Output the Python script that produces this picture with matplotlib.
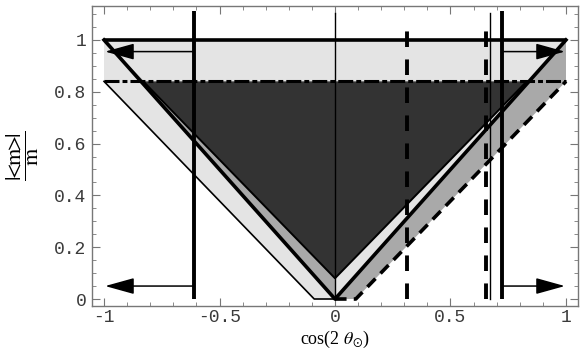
import matplotlib
matplotlib.use('Agg')
from matplotlib import pyplot as plt
import numpy as np

plt.rcParams['mathtext.fontset'] = 'stix'

# upper limit |<m>|/m = 1 and the dash-dot level
top_x = [-1.0, 1.0]
top_y = [1.0, 1.0]
band_y = 0.84

# thick V : |<m>|/m = |cos 2theta|
v_x = [-1.0, 0.0, 1.0]
v_y = [1.0, 0.0, 1.0]

# lower edge on the left (thin) and on the right (dashed)
left_x = [-1.0, -0.09, 0.0]
left_y = [0.84, 0.0, 0.0]
right_x = [0.0, 0.09, 1.0]
right_y = [0.0, 0.0, 0.84]

# dark triangle
dark_x = [-0.83, 0.0, 0.83]
dark_y = [0.84, 0.08, 0.84]

# vertical bounds
vsolid_x = [-0.61, 0.723]      # thick solid
vsolid_top = 1.11
vthin_x = [0.0, 0.672]         # thin solid
vthin_top = 1.105
vdash_x = [0.313, 0.654]       # thick dashed
vdash_top = 1.077

# arrows (tail on the thick lines, head at the edge)
arrow_y = [0.955, 0.05]
arrow_tail = [-0.61, 0.723]
arrow_tip = [-0.995, 0.995]

xticks = [-1, -0.5, 0, 0.5, 1]
xlabels = ['-1', '-0.5', '0', '0.5', '1']
yticks = [0, 0.2, 0.4, 0.6, 0.8, 1]
ylabels = ['0', '0.2', '0.4', '0.6', '0.8', '1']

LIGHT = '#e4e4e4'
MID = '#a9a9a9'
DARK = '#333333'

fig = plt.figure(figsize=(5.81, 3.54), dpi=100)
ax = fig.add_axes([92/581, 1-306/354, 486/581, 300/354])

# light region
ax.fill([top_x[0], top_x[1], v_x[1], left_x[1], left_x[0]],
        [top_y[0], top_y[1], v_y[1], left_y[1], left_y[0]], color=LIGHT, lw=0)
# medium regions
ax.fill([v_x[2], right_x[2], right_x[1], right_x[0]],
        [v_y[2], right_y[2], right_y[1], right_y[0]], color=MID, lw=0)
ax.fill([v_x[0], v_x[1], dark_x[1]], [v_y[0], v_y[1], dark_y[1]], color=MID, lw=0)
# dark region
ax.fill(dark_x, dark_y, color=DARK, lw=0)

# lines
ax.plot(dark_x, dark_y, color='k', lw=1.4)
ax.plot(top_x, top_y, color='k', lw=2.6, solid_capstyle='butt')
ax.plot(top_x, [band_y, band_y], color='k', lw=2.2, dashes=(4.9, 1.0, 1.6, 1.0))
ax.plot(left_x, left_y, color='k', lw=1.2)
ax.plot(right_x, right_y, color='k', lw=2.6, dashes=(3.2, 2.0))
ax.plot(v_x, v_y, color='k', lw=2.6)

for x in vsolid_x:
    ax.plot([x, x], [0, vsolid_top], color='k', lw=2.8, solid_capstyle='butt')
for x in vthin_x:
    ax.plot([x, x], [0, vthin_top], color='k', lw=1.0)
for x in vdash_x:
    ax.plot([x, x], [0, vdash_top], color='k', lw=2.8, dashes=(4.0, 3.2))

for y in arrow_y:
    for t0, t1 in zip(arrow_tail, arrow_tip):
        ax.annotate('', xy=(t1, y), xytext=(t0, y),
                    arrowprops=dict(arrowstyle='-|>,head_length=1.8,head_width=0.5',
                                    mutation_scale=10, lw=1.1, color='k',
                                    shrinkA=0, shrinkB=0))

ax.set_xlim(-1.052, 1.052)
ax.set_ylim(-0.027, 1.131)

ax.set_xticks(xticks)
ax.set_xticklabels(xlabels)
ax.set_yticks(yticks)
ax.set_yticklabels(ylabels)
ax.set_xticks(np.arange(-1, 1.01, 0.1), minor=True)
ax.set_yticks(np.arange(0, 1.11, 0.05), minor=True)
ax.tick_params(which='both', direction='in', top=True, right=True, color='#777777')
ax.tick_params(which='major', length=6, width=0.8)
ax.tick_params(which='minor', length=3, width=0.6)
ax.tick_params(axis='x', pad=2)
ax.tick_params(axis='y', pad=4)
for lab in ax.get_xticklabels() + ax.get_yticklabels():
    lab.set_family('Liberation Mono')
    lab.set_fontsize(13)
    lab.set_color('#3a3a3a')
for s in ax.spines.values():
    s.set_color('#777777')
    s.set_linewidth(1.0)

ax.set_xlabel(r'cos(2 $\theta_{\odot}$)', family='Liberation Serif', fontsize=13, labelpad=2)
ax.set_ylabel(r'$\dfrac{|\!\!<\!\!\mathrm{m}\!\!>\!\!|}{\mathrm{m}}$', fontsize=16, rotation=90)
ax.yaxis.label.set_va('center')
ax.yaxis.set_label_coords(-0.142, 0.5)

fig.savefig('out.png', dpi=100)
